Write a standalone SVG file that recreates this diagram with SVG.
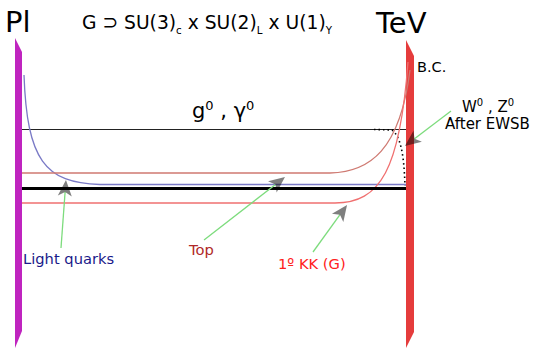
<svg xmlns="http://www.w3.org/2000/svg" width="533" height="348" viewBox="0 0 533 348">
<style>
text{font-family:"DejaVu Sans","Liberation Sans",sans-serif;}
.lbl{font-size:14.7px;}
.ptr{stroke:#7ddc7d;stroke-width:1.3;fill:none;marker-end:url(#ah);}
</style>
<defs>
<marker id="ah" markerUnits="userSpaceOnUse" viewBox="-5 -8 18 16" refX="0" refY="0" markerWidth="18" markerHeight="16" orient="auto" overflow="visible">
<path d="M12,0 L-4,-7 L0,0 L-4,7 Z" fill="#000" fill-opacity="0.5"/>
</marker>
</defs>
<rect width="533" height="348" fill="#fff"/>
<g id="pillar-pl"><polygon points="15,38 22,52 22,331 15,348" fill="#bf24bf"/></g>
<g id="pillar-tev"><polygon points="406,40 414,56 414,332 406,348" fill="#e53c3c"/></g>
<g id="curves">
<line x1="22" y1="129.5" x2="406" y2="129.5" stroke="#222" stroke-width="1"/>
<path d="M374,129.5 L392,130 C400,136 404,152 405,186" fill="none" stroke="#000" stroke-width="1.6" stroke-dasharray="1.5,3"/>
<path d="M24,75 C27,160 45,183 100,184.5 L406,184.5" fill="none" stroke="#7a7ac6" stroke-width="1.3"/>
<path d="M22,173 L330,173 C370,172 400,150 410,70" fill="none" stroke="#cf7a72" stroke-width="1.3"/>
<path d="M22,203 L335,203 C380,203 400,170 408,62" fill="none" stroke="#f07070" stroke-width="1.3"/>
<line x1="22" y1="188.5" x2="406" y2="188.5" stroke="#000" stroke-width="3.2"/>
</g>
<g id="connectors">
<line class="ptr" x1="61" y1="248" x2="65.1" y2="192"/>
<line class="ptr" x1="204" y1="240" x2="275.5" y2="184.4"/>
<line class="ptr" x1="313" y1="252" x2="340" y2="214.7"/>
<line class="ptr" x1="451" y1="111" x2="414.5" y2="138.7"/>
</g>
<g id="labels">
<text x="5" y="32" font-size="29">Pl</text>
<text x="376" y="33" font-size="29">TeV</text>
<text x="82" y="29" font-size="20" textLength="250" lengthAdjust="spacingAndGlyphs">G ⊃ SU(3)<tspan font-size="11" dy="5">c</tspan><tspan dy="-5"> x SU(2)</tspan><tspan font-size="11" dy="5">L</tspan><tspan dy="-5"> x U(1)</tspan><tspan font-size="11" dy="5">Y</tspan></text>
<text x="417" y="72" font-size="14.5">B.C.</text>
<text x="192" y="118" font-size="21">g<tspan font-size="13" dy="-8">0</tspan><tspan dy="8"> , γ</tspan><tspan font-size="13" dy="-8">0</tspan></text>
<text x="462" y="112" font-size="15">W<tspan font-size="10" dy="-6">0</tspan><tspan dy="6"> , Z</tspan><tspan font-size="10" dy="-6">0</tspan></text>
<text x="445" y="129" font-size="15">After EWSB</text>
<text class="lbl" x="23" y="264" fill="#1a1a8a">Light quarks</text>
<text class="lbl" x="189" y="255" fill="#b02828">Top</text>
<text class="lbl" x="278" y="269" fill="#ff2020">1º KK (G)</text>
</g>
</svg>
